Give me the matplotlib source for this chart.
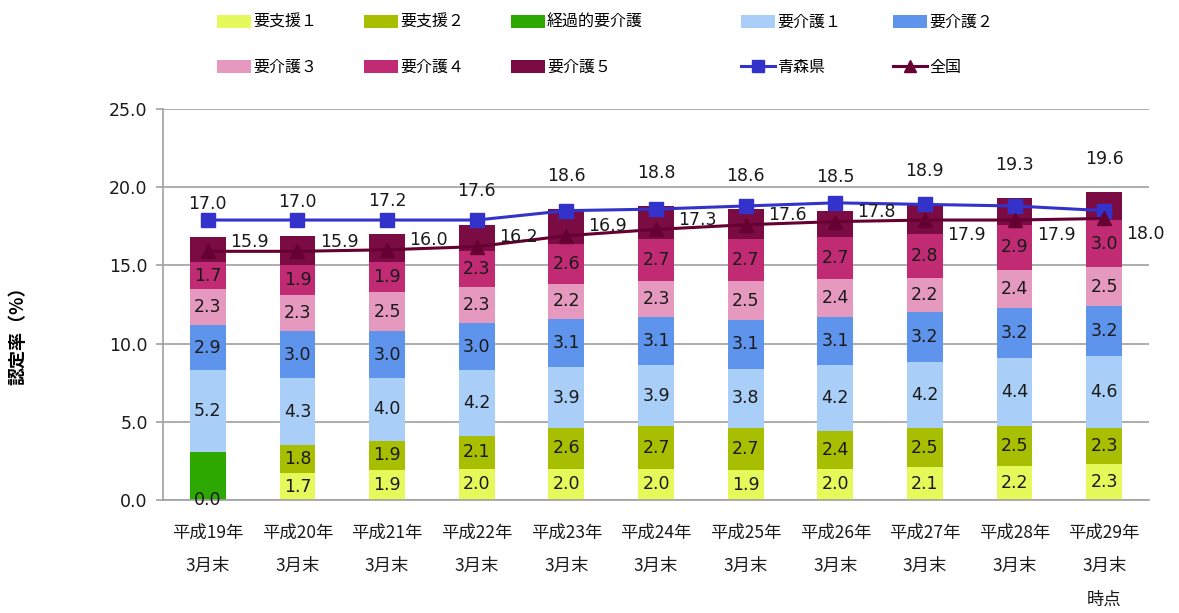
import numpy as np
import matplotlib.pyplot as plt
from matplotlib.patches import Patch
from matplotlib.lines import Line2D

plt.rcParams['font.family'] = ['DejaVu Sans', 'Noto Sans CJK JP']
JP = 'Noto Sans CJK JP'

# ---------------------------------------------------------------------
# data
years = ['平成19年', '平成20年', '平成21年', '平成22年', '平成23年', '平成24年',
         '平成25年', '平成26年', '平成27年', '平成28年', '平成29年']
xlabels = [y + '\n3月末' for y in years]
xlabels[-1] = xlabels[-1] + '\n時点'

shien1   = [0.0, 1.7, 1.9, 2.0, 2.0, 2.0, 1.9, 2.0, 2.1, 2.2, 2.3]
shien2   = [0.0, 1.8, 1.9, 2.1, 2.6, 2.7, 2.7, 2.4, 2.5, 2.5, 2.3]
keika    = [3.1, 0, 0, 0, 0, 0, 0, 0, 0, 0, 0]
kaigo1   = [5.2, 4.3, 4.0, 4.2, 3.9, 3.9, 3.8, 4.2, 4.2, 4.4, 4.6]
kaigo2   = [2.9, 3.0, 3.0, 3.0, 3.1, 3.1, 3.1, 3.1, 3.2, 3.2, 3.2]
kaigo3   = [2.3, 2.3, 2.5, 2.3, 2.2, 2.3, 2.5, 2.4, 2.2, 2.4, 2.5]
kaigo4   = [1.7, 1.9, 1.9, 2.3, 2.6, 2.7, 2.7, 2.7, 2.8, 2.9, 3.0]
kaigo5   = [1.6, 1.9, 1.8, 1.7, 2.2, 2.1, 1.9, 1.7, 1.9, 1.7, 1.8]

total_labels = [17.0, 17.0, 17.2, 17.6, 18.6, 18.8, 18.6, 18.5, 18.9, 19.3, 19.6]
aomori  = [17.9, 17.9, 17.9, 17.9, 18.5, 18.6, 18.8, 19.0, 18.9, 18.8, 18.5]
zenkoku = [15.9, 15.9, 16.0, 16.2, 16.9, 17.3, 17.6, 17.8, 17.9, 17.9, 18.0]

series = [
    ('要支援１', shien1, '#E5F95A', True),
    ('要支援２', shien2, '#A8BE00', True),
    ('経過的要介護', keika, '#2CA800', False),
    ('要介護１', kaigo1, '#A9CEF7', True),
    ('要介護２', kaigo2, '#5E94EC', True),
    ('要介護３', kaigo3, '#E699BF', True),
    ('要介護４', kaigo4, '#C02B73', True),
    ('要介護５', kaigo5, '#7A0C43', False),
]
c_aomori = '#3333CC'
c_zenkoku = '#660033'

# ---------------------------------------------------------------------
fig = plt.figure(figsize=(11.79, 6.13), dpi=100)
ax = fig.add_axes([163/1179, 1-500/613, (1149-163)/1179, (500-109)/613])

x = np.arange(len(years))
bottom = np.zeros(len(years))
handles = []
for name, vals, col, show in series:
    vals = np.array(vals, dtype=float)
    ax.bar(x, vals, 0.4, bottom=bottom, color=col, zorder=2)
    if show:
        for i, v in enumerate(vals):
            if v == 0 and name != '要支援１':
                continue
            ax.text(i, bottom[i] + v/2, f'{v:.1f}', ha='center', va='center',
                    fontsize=12.5, color='#1a1a1a', zorder=5)
    bottom = bottom + vals
    handles.append(Patch(facecolor=col))

for i, t in enumerate(total_labels):
    ax.annotate(f'{t:.1f}', (i, bottom[i]), xytext=(0, 24), textcoords='offset points',
                ha='center', va='center', fontsize=12.5, color='#1a1a1a')

ax.plot(x, aomori, color=c_aomori, lw=2.2, marker='s', ms=10, zorder=4)
ax.plot(x, zenkoku, color=c_zenkoku, lw=2.2, marker='^', ms=10, zorder=4)
for i, v in enumerate(zenkoku):
    dy = 7 if i < 8 else -11
    ax.annotate(f'{v:.1f}', (i, v), xytext=(16, dy), textcoords='offset points',
                ha='left', va='center', fontsize=12.5, color='#1a1a1a', zorder=6)

handles.append(Line2D([], [], color=c_aomori, lw=2.2, marker='s', ms=9))
handles.append(Line2D([], [], color=c_zenkoku, lw=2.2, marker='^', ms=9))
names = [s[0] for s in series] + ['青森県', '全国']

ax.set_xlim(-0.5, 10.5)
ax.set_ylim(0, 25)
ax.set_yticks(np.arange(0, 26, 5))
ax.set_yticklabels([f'{v:.1f}' for v in np.arange(0, 26, 5)], fontsize=12.5, color='#1a1a1a')
ax.grid(axis='y', color='#a0a0a0', lw=1.2, zorder=0)
ax.set_axisbelow(True)
for s in ['top', 'right']:
    ax.spines[s].set_visible(False)
ax.spines['left'].set_color('#a0a0a0')
ax.spines['bottom'].set_color('#a0a0a0')
ax.spines['left'].set_linewidth(1.2)
ax.spines['bottom'].set_linewidth(1.2)
ax.tick_params(axis='y', length=5, color='#a0a0a0', width=1.2, pad=6)
ax.set_xticks(x)
ax.set_xticklabels(xlabels, fontsize=12.5, family=JP, linespacing=2.1, color='#1a1a1a')
ax.tick_params(axis='x', length=0, pad=17)

fig.text(18/1179, 1-331/613, '認定率（%）', rotation=90, ha='center', va='center',
         fontsize=13, fontweight='bold', family=JP)

# legend, one column at a time (Excel style fixed column positions)
col_x = [217, 364, 511, 741, 893]
for c in range(5):
    fig.legend([handles[c], handles[c+5]], [names[c], names[c+5]],
               loc='upper left', bbox_to_anchor=(col_x[c]/1179, 1-14/613),
               frameon=False, borderpad=0, borderaxespad=0,
               handlelength=2.1, handleheight=0.9, handletextpad=0.15,
               labelspacing=1.75, prop={'family': JP, 'size': 11.5})

fig.savefig('out.png', dpi=100)
